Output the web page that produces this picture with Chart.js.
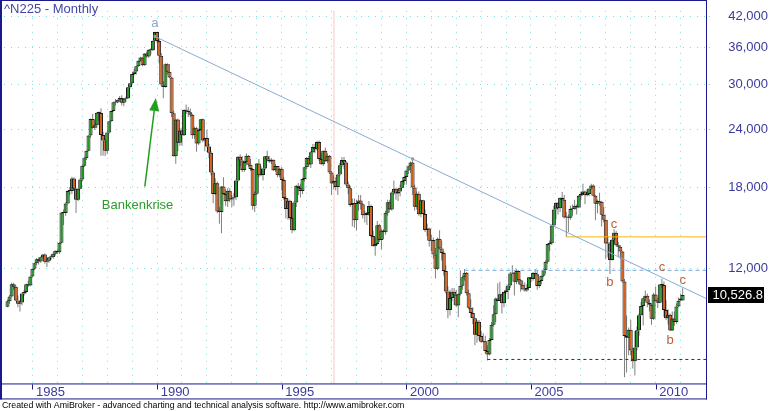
<!DOCTYPE html>
<html>
<head>
<meta charset="utf-8">
<title>^N225 - Monthly</title>
<script src="https://cdn.jsdelivr.net/npm/chart.js@4.4.1/dist/chart.umd.min.js"></script>
<style>
  html, body { margin: 0; padding: 0; background: #fff; }
  canvas { display: block; }
</style>
</head>
<body>
<canvas id="chart" width="770" height="411"></canvas>
<script>
// Nikkei 225, monthly candles from Jan 1984 to Feb 2011 (one row per year)
const firstYear = 1984;

const opens = [
  9930, 10200, 10450, 11100, 10960, 10240, 10080, 10140, 10610, 10680, 11110, 11040,
  11540, 11990, 12320, 12580, 12430, 12700, 12880, 12420, 12480, 12700, 12700, 12920,
  13110, 13020, 13640, 15860, 15830, 16590, 17650, 17650, 18790, 17850, 16910, 17850,
  18700, 20020, 20770, 21570, 23270, 25260, 24180, 24490, 26030, 26010, 23330, 22690,
  21560, 23620, 24980, 26260, 27430, 27420, 27770, 28020, 27370, 27920, 27990, 29580,
  30160, 31580, 31990, 32840, 33710, 34270, 33000, 34950, 34430, 35640, 35550, 37270,
  38920, 37190, 34590, 29980, 29590, 33130, 31940, 31040, 25980, 20980, 25190, 22450,
  23850, 23290, 26410, 26290, 26110, 25790, 23290, 24120, 22340, 23920, 25220, 22690,
  22980, 22020, 21340, 19350, 17390, 18350, 15950, 15910, 18060, 17400, 16770, 17680,
  16920, 17020, 17110, 18590, 20920, 20550, 19590, 20380, 21030, 20110, 19700, 16410,
  17420, 20230, 19100, 19110, 19730, 20970, 20640, 20450, 20630, 19560, 19990, 19080,
  19720, 18650, 17050, 16140, 16810, 15440, 14520, 16680, 18120, 17910, 17650, 18740,
  19870, 20810, 20130, 21410, 21960, 21720, 22530, 20690, 20170, 21560, 20470, 21020,
  19360, 18330, 18560, 18000, 19150, 20070, 20600, 20330, 18230, 17890, 16460, 16630,
  15260, 16630, 16830, 16530, 15640, 15670, 15830, 16380, 14110, 13410, 13560, 14880,
  13840, 14500, 14370, 15840, 16700, 16110, 17530, 17860, 17440, 17610, 17940, 18560,
  18930, 19540, 19960, 20340, 17970, 16330, 17410, 15730, 16860, 15750, 14540, 14650,
  13790, 13840, 12880, 12000, 13930, 13260, 12970, 11860, 10710, 9770, 10370, 10700,
  10540, 9990, 10590, 11020, 11490, 11760, 10620, 9880, 9620, 9380, 8640, 9220,
  8580, 8340, 8360, 7970, 7830, 8420, 9080, 9560, 10340, 10220, 10560, 10100,
  10680, 10780, 11040, 11720, 11760, 11240, 11860, 11330, 11080, 10820, 10770, 10900,
  11490, 11390, 11740, 11670, 11010, 11280, 11580, 11900, 12410, 13570, 13610, 14870,
  16110, 16650, 16210, 17060, 16910, 15470, 15510, 15460, 16140, 16130, 16400, 16270,
  17230, 17380, 17600, 17290, 17400, 17880, 18140, 17250, 16570, 16790, 16740, 15680,
  15300, 13590, 13600, 12530, 13850, 14340, 13480, 13380, 13070, 11260, 8580, 8510,
  8860, 7990, 7570, 8110, 8830, 9520, 9960, 10360, 10490, 10130, 10030, 9350,
  10550, 10200, 10130, 11090, 11060, 9770, 9380, 9540, 8820, 9370, 9200, 9940,
  10350, 10240
];

const highs = [
  10290, 10520, 11190, 11190, 11050, 10500, 10250, 10650, 10800, 11150, 11300, 11580,
  12000, 12350, 12650, 12700, 12750, 12900, 12950, 12550, 12720, 12850, 13000, 13130,
  13150, 13700, 15900, 16100, 16700, 17700, 18000, 18940, 18900, 17950, 17900, 18800,
  20100, 20900, 21600, 23300, 25300, 25930, 25100, 26100, 26200, 26650, 23700, 22900,
  23700, 25000, 26300, 27500, 27900, 27800, 28300, 28400, 28000, 28200, 29600, 30200,
  31600, 32400, 32900, 33800, 34400, 34300, 35000, 35300, 35700, 35900, 37300, 38960,
  38950, 37600, 35000, 30500, 33300, 33300, 33200, 31100, 26300, 25200, 25300, 24100,
  24200, 26500, 27150, 26800, 26600, 25900, 24300, 24300, 24000, 25250, 25300, 23000,
  23900, 22300, 21500, 19500, 18800, 18500, 16300, 18100, 18900, 17800, 17900, 17900,
  17300, 17500, 18700, 21000, 21200, 21000, 20500, 21280, 21100, 20700, 19800, 17600,
  20300, 20700, 20000, 19800, 21000, 21550, 21000, 20800, 20650, 20200, 20000, 19800,
  19900, 18900, 17200, 17000, 16900, 15500, 16800, 18200, 18400, 18300, 18800, 19900,
  20900, 21000, 21500, 22300, 22300, 22670, 22700, 21300, 21600, 21900, 21300, 21100,
  19500, 19100, 18900, 19200, 20300, 20900, 20900, 20500, 18500, 18100, 17000, 17000,
  16900, 17300, 17300, 16600, 16000, 15900, 16800, 16500, 14500, 14000, 15200, 15000,
  14600, 14600, 16000, 16900, 16900, 17600, 18600, 17900, 17900, 18200, 18600, 19000,
  19600, 20000, 20450, 20830, 18200, 17600, 17600, 16900, 16900, 16100, 15000, 14700,
  14200, 14000, 13300, 14000, 14530, 13800, 13100, 12200, 11000, 10800, 10900, 10900,
  10800, 10600, 11900, 11600, 11980, 11800, 10800, 10300, 9900, 9400, 9300, 9300,
  8800, 8700, 8600, 8200, 8500, 9200, 10000, 10400, 11160, 11240, 10600, 10700,
  11000, 11100, 11800, 12200, 11800, 12000, 11900, 11400, 11300, 11200, 11100, 11500,
  11500, 11800, 11980, 11900, 11300, 11600, 11950, 12500, 13600, 13800, 14900, 16400,
  16700, 16700, 17100, 17560, 17300, 15900, 15700, 16400, 16500, 16900, 16500, 17300,
  17600, 18300, 17700, 17800, 17900, 18300, 18260, 17300, 16900, 17490, 16800, 16300,
  15310, 14100, 13700, 13900, 14600, 14490, 13700, 13500, 13100, 11400, 9500, 8950,
  9300, 8100, 8800, 9000, 9600, 10170, 10400, 10770, 10600, 10300, 10100, 10640,
  10980, 10400, 11100, 11410, 11250, 10250, 9800, 9600, 9700, 9700, 10100, 10400,
  10600, 10890
];

const lows = [
  9900, 10080, 10400, 10800, 10200, 9900, 9700, 10000, 10500, 10600, 10950, 11000,
  11500, 11900, 12200, 12250, 12350, 12600, 12300, 12100, 12350, 12550, 12600, 12800,
  12900, 12900, 13600, 14900, 15600, 16500, 17300, 17400, 17800, 15820, 16800, 17800,
  18500, 19900, 20600, 21500, 23000, 24100, 23900, 24100, 25000, 21040, 21040, 21000,
  21200, 23500, 24900, 26200, 27000, 27300, 27500, 27000, 26900, 27500, 27900, 29400,
  29900, 31400, 31500, 32700, 33600, 32800, 32900, 34300, 34200, 34800, 35400, 37200,
  36900, 33300, 29800, 28000, 29500, 31500, 30900, 25500, 20950, 20220, 21500, 22100,
  22100, 23200, 25900, 25500, 25500, 22900, 22900, 21450, 22200, 23800, 22500, 21500,
  21900, 20800, 19100, 16600, 17300, 15800, 15000, 14310, 17300, 16400, 16300, 16700,
  16300, 16400, 16900, 18500, 20000, 19400, 19400, 20100, 19900, 19500, 16080, 15900,
  17300, 18900, 19000, 18600, 19600, 20500, 20300, 20200, 19500, 19400, 18900, 18900,
  17700, 16900, 15400, 15300, 15300, 14300, 14450, 16300, 17300, 17100, 17400, 18500,
  19700, 19900, 19800, 21300, 21300, 21600, 20500, 20100, 20000, 20400, 20300, 19200,
  17300, 17800, 17700, 17300, 19000, 19900, 19700, 18100, 17400, 16300, 14800, 14700,
  14500, 16000, 16100, 15400, 15100, 14900, 15600, 14000, 13400, 12790, 13500, 13700,
  13200, 13900, 14200, 15600, 16100, 16000, 17300, 16900, 16800, 17200, 17900, 18200,
  18200, 19200, 19300, 17300, 16000, 16100, 15600, 15500, 15700, 14400, 14100, 13400,
  13100, 12600, 11430, 11900, 13200, 12500, 11600, 10600, 9380, 9500, 10200, 10000,
  9900, 9420, 10500, 10800, 11300, 10500, 9800, 9400, 9100, 8200, 8300, 8400,
  8300, 8300, 7860, 7600, 7800, 8400, 9000, 9200, 10200, 10200, 9600, 9900,
  10600, 10300, 10900, 11700, 10500, 11100, 11100, 10700, 10800, 10700, 10700, 10900,
  11200, 11300, 11600, 10800, 10900, 11100, 11500, 11700, 12300, 13100, 13500, 14800,
  15340, 15700, 15900, 16900, 15400, 14050, 14400, 15300, 15600, 16100, 15700, 16200,
  16900, 17300, 16530, 17200, 17200, 17800, 17200, 15270, 15800, 16400, 14800, 15100,
  12570, 12700, 11690, 12500, 13600, 13400, 12700, 12600, 11200, 6990, 7160, 7800,
  7800, 7300, 7050, 8000, 8600, 9500, 9050, 10200, 9900, 9700, 9080, 9300,
  10200, 9870, 10100, 10900, 9440, 9300, 9090, 8800, 8800, 9030, 9120, 9900,
  10200, 10240
];

const closes = [
  10200, 10450, 11100, 10960, 10240, 10080, 10140, 10610, 10680, 11110, 11040, 11540,
  11990, 12320, 12580, 12430, 12700, 12880, 12420, 12480, 12700, 12700, 12920, 13110,
  13020, 13640, 15860, 15830, 16590, 17650, 17650, 18790, 17850, 16910, 17850, 18700,
  20020, 20770, 21570, 23270, 25260, 24180, 24490, 26030, 26010, 23330, 22690, 21560,
  23620, 24980, 26260, 27430, 27420, 27770, 28020, 27370, 27920, 27990, 29580, 30160,
  31580, 31990, 32840, 33710, 34270, 33000, 34950, 34430, 35640, 35550, 37270, 38920,
  37190, 34590, 29980, 29590, 33130, 31940, 31040, 25980, 20980, 25190, 22450, 23850,
  23290, 26410, 26290, 26110, 25790, 23290, 24120, 22340, 23920, 25220, 22690, 22980,
  22020, 21340, 19350, 17390, 18350, 15950, 15910, 18060, 17400, 16770, 17680, 16920,
  17020, 17110, 18590, 20920, 20550, 19590, 20380, 21030, 20110, 19700, 16410, 17420,
  20230, 19100, 19110, 19730, 20970, 20640, 20450, 20630, 19560, 19990, 19080, 19720,
  18650, 17050, 16140, 16810, 15440, 14520, 16680, 18120, 17910, 17650, 18740, 19870,
  20810, 20130, 21410, 21960, 21720, 22530, 20690, 20170, 21560, 20470, 21020, 19360,
  18330, 18560, 18000, 19150, 20070, 20600, 20330, 18230, 17890, 16460, 16630, 15260,
  16630, 16830, 16530, 15640, 15670, 15830, 16380, 14110, 13410, 13560, 14880, 13840,
  14500, 14370, 15840, 16700, 16110, 17530, 17860, 17440, 17610, 17940, 18560, 18930,
  19540, 19960, 20340, 17970, 16330, 17410, 15730, 16860, 15750, 14540, 14650, 13790,
  13840, 12880, 12000, 13930, 13260, 12970, 11860, 10710, 9770, 10370, 10700, 10540,
  9990, 10590, 11020, 11490, 11760, 10620, 9880, 9620, 9380, 8640, 9220, 8580,
  8340, 8360, 7970, 7830, 8420, 9080, 9560, 10340, 10220, 10560, 10100, 10680,
  10780, 11040, 11720, 11760, 11240, 11860, 11330, 11080, 10820, 10770, 10900, 11490,
  11390, 11740, 11670, 11010, 11280, 11580, 11900, 12410, 13570, 13610, 14870, 16110,
  16650, 16210, 17060, 16910, 15470, 15510, 15460, 16140, 16130, 16400, 16270, 17230,
  17380, 17600, 17290, 17400, 17880, 18140, 17250, 16570, 16790, 16740, 15680, 15310,
  13590, 13600, 12530, 13850, 14340, 13480, 13380, 13070, 11260, 8580, 8510, 8860,
  7990, 7570, 8110, 8830, 9520, 9960, 10360, 10490, 10130, 10030, 9350, 10550,
  10200, 10130, 11090, 11060, 9770, 9380, 9540, 8820, 9370, 9200, 9940, 10230,
  10240, 10526.8
];

const gridYears = [1985, 1986, 1987, 1988, 1989, 1990, 1991, 1992, 1993, 1994, 1995, 1996, 1997, 1998,
  1999, 2000, 2001, 2002, 2003, 2004, 2005, 2006, 2007, 2008, 2009, 2010, 2011];
const labelYears = [1985, 1990, 1995, 2000, 2005, 2010];
const priceTicks = [12000, 18000, 24000, 30000, 36000, 42000];

// trend line from the 1989 top through the 2000 top (month index, price)
const trendMonths = [71, 195];
const trendValues = [38050, 20700];

// horizontal levels: 2003 low, 2002 high, 2006 low
const levelMonths = [231, 220, 269];
const levelValues = [7640, 11900, 14050];

// wave letters (month index, price)
const waveText = ['a', 'b', 'c', 'c', 'b', 'c'];
const waveMonths = [71, 290, 292, 315, 319, 325];
const waveValues = [40600, 11210, 14930, 12100, 8390, 11310];

// "Bankenkrise" note and arrow
const noteText = 'Bankenkrise';
const noteAt = { month: 45.4, value: 16440 };
const arrowFrom = { month: 66.1, value: 18050 };
const arrowTo = { month: 71.4, value: 28020 };
const cursorMonth = 157;

const title = '^N225 - Monthly';
const footer = 'Created with AmiBroker - advanced charting and technical analysis software. http://www.amibroker.com';

// visible ranges of the axes
const xMin = -1.68, xMax = 336.24;
const yMin = 6781, yMax = 43237;

const FONT = "'Liberation Sans', Arial, sans-serif";
const NAVY = '#1a1a8a';
const LABEL_BLUE = '#3a3a9e';
const GRID = '#7fdede';
const UP = '#1f9a22';
const DOWN = '#d2601e';

const wickData = highs.map((h, i) => ({ x: i, y: [lows[i], h] }));
const bodyData = closes.map((c, i) => ({ x: i, y: [opens[i], c] }));

const slope = (Math.log(trendValues[1]) - Math.log(trendValues[0])) / (trendMonths[1] - trendMonths[0]);
const trendData = [
  { x: trendMonths[0], y: trendValues[0] },
  { x: trendMonths[1], y: trendValues[1] },
  { x: xMax, y: Math.exp(Math.log(trendValues[1]) + slope * (xMax - trendMonths[1])) }
];

const levelStyles = [
  { color: '#7a1414', dash: [3, 3] },
  { color: '#7fa6d6', dash: [4, 3] },
  { color: '#ffb400', dash: [] }
];

const levelSets = levelMonths.map((m, i) => ({
  type: 'line',
  data: [{ x: m, y: levelValues[i] }, { x: xMax, y: levelValues[i] }],
  borderColor: levelStyles[i].color,
  borderDash: levelStyles[i].dash,
  borderWidth: 1,
  pointRadius: 0,
  order: 0
}));

const decor = {
  id: 'decor',
  beforeDatasetsDraw(chart) {
    const { ctx, chartArea: a, scales: { x } } = chart;
    ctx.save();
    ctx.fillStyle = '#fbe4e4';
    ctx.fillRect(Math.round(x.getPixelForValue(cursorMonth)) - 1, a.top, 2, a.bottom - a.top);
    ctx.restore();
  },
  afterDatasetsDraw(chart) {
    const { ctx, scales: { x, y } } = chart;
    ctx.save();
    ctx.font = '13px ' + FONT;
    ctx.textAlign = 'center';
    ctx.textBaseline = 'middle';
    waveText.forEach((t, i) => {
      ctx.fillStyle = t === 'a' ? '#8ea8ca' : '#b8603a';
      ctx.fillText(t, x.getPixelForValue(waveMonths[i]), y.getPixelForValue(waveValues[i]));
    });

    // arrow to the 1990 break
    const x0 = x.getPixelForValue(arrowFrom.month), y0 = y.getPixelForValue(arrowFrom.value);
    const x1 = x.getPixelForValue(arrowTo.month), y1 = y.getPixelForValue(arrowTo.value);
    const ang = Math.atan2(y1 - y0, x1 - x0);
    const headLen = 13, headW = 5;
    const bx = x1 - headLen * Math.cos(ang), by = y1 - headLen * Math.sin(ang);
    ctx.strokeStyle = '#1fa01f';
    ctx.fillStyle = '#1fa01f';
    ctx.lineWidth = 1.5;
    ctx.beginPath();
    ctx.moveTo(x0, y0);
    ctx.lineTo(bx, by);
    ctx.stroke();
    ctx.beginPath();
    ctx.moveTo(x1, y1);
    ctx.lineTo(bx + headW * Math.sin(ang), by - headW * Math.cos(ang));
    ctx.lineTo(bx - headW * Math.sin(ang), by + headW * Math.cos(ang));
    ctx.closePath();
    ctx.fill();

    ctx.fillStyle = '#2a9e2a';
    ctx.textAlign = 'left';
    ctx.fillText(noteText, x.getPixelForValue(noteAt.month), y.getPixelForValue(noteAt.value));

    ctx.fillStyle = '#4545a6';
    ctx.fillText(title, 4, 9);
    ctx.restore();
  },
  afterDraw(chart) {
    const { ctx, chartArea: a, scales: { x, y } } = chart;
    const xAxisBottom = x.bottom;
    ctx.save();
    ctx.fillStyle = NAVY;
    ctx.fillRect(0, 0, a.right + 1, 1);
    ctx.fillRect(0, 0, 2, xAxisBottom);
    ctx.fillRect(a.right, 0, 1, xAxisBottom);
    ctx.fillRect(0, a.bottom, a.right + 1, 1);
    ctx.fillRect(0, xAxisBottom - 1, a.right + 1, 1);
    labelYears.forEach(yr => {
      const px = Math.round(x.getPixelForValue((yr - firstYear) * 12));
      ctx.fillRect(px, a.bottom + 1, 1, 5);
    });

    // last price box
    const last = closes[closes.length - 1];
    const py = y.getPixelForValue(last);
    ctx.fillStyle = '#000';
    ctx.fillRect(a.right + 2, Math.round(py) - 8, 56, 16);
    ctx.fillStyle = '#fff';
    ctx.font = '13px ' + FONT;
    ctx.textAlign = 'right';
    ctx.textBaseline = 'middle';
    ctx.fillText(last.toLocaleString('en-US', { minimumFractionDigits: 1, maximumFractionDigits: 1 }), a.right + 57, py + 0.5);
    ctx.restore();
  }
};

new Chart(document.getElementById('chart'), {
  type: 'bar',
  data: {
    datasets: [
      {
        data: wickData,
        backgroundColor: '#808080',
        borderWidth: 0,
        barThickness: 1,
        grouped: false,
        inflateAmount: 0,
        order: 2
      },
      {
        data: bodyData,
        backgroundColor: ctx => (closes[ctx.dataIndex] >= opens[ctx.dataIndex] ? UP : DOWN),
        borderColor: '#1a1a1a',
        borderWidth: 1,
        borderSkipped: false,
        barThickness: 4,
        minBarLength: 1,
        grouped: false,
        inflateAmount: 0,
        order: 1
      },
      {
        type: 'line',
        data: trendData,
        borderColor: '#8aaad0',
        borderWidth: 1,
        pointRadius: [2, 2, 0],
        pointStyle: 'rect',
        pointBackgroundColor: '#9a9a9a',
        pointBorderWidth: 0,
        order: 0
      },
      ...levelSets
    ]
  },
  options: {
    responsive: false,
    animation: false,
    events: [],
    layout: { padding: { left: 2, top: 1, right: 2, bottom: 0 } },
    scales: {
      x: {
        type: 'linear',
        min: xMin,
        max: xMax,
        bounds: 'data',
        offset: false,
        afterBuildTicks: axis => { axis.ticks = gridYears.map(yr => ({ value: (yr - firstYear) * 12 })); },
        afterFit: axis => { axis.height = 16; },
        grid: { color: GRID, offset: false, drawTicks: false },
        border: { display: false, dash: [1, 6] },
        ticks: {
          autoSkip: false,
          maxRotation: 0,
          align: 'start',
          padding: 1,
          color: LABEL_BLUE,
          font: { family: FONT, size: 13 },
          callback: v => {
            const yr = firstYear + v / 12;
            return labelYears.includes(yr) ? ' ' + yr : '';
          }
        }
      },
      y: {
        type: 'logarithmic',
        position: 'right',
        min: yMin,
        max: yMax,
        bounds: 'data',
        afterBuildTicks: axis => { axis.ticks = priceTicks.map(v => ({ value: v })); },
        afterFit: axis => { axis.width = 62; },
        grid: { color: GRID, tickColor: GRID, tickLength: 6, tickBorderDash: [1, 2] },
        border: { display: false, dash: [1, 6] },
        ticks: {
          autoSkip: false,
          crossAlign: 'far',
          color: LABEL_BLUE,
          font: { family: FONT, size: 13 },
          callback: v => v.toLocaleString('en-US')
        }
      }
    },
    plugins: {
      legend: { display: false },
      tooltip: { enabled: false },
      subtitle: {
        display: true,
        position: 'bottom',
        align: 'start',
        text: footer,
        color: '#000',
        font: { family: FONT, size: 8.8 },
        padding: { top: 1, bottom: 0 }
      }
    }
  },
  plugins: [decor]
});
</script>
</body>
</html>
